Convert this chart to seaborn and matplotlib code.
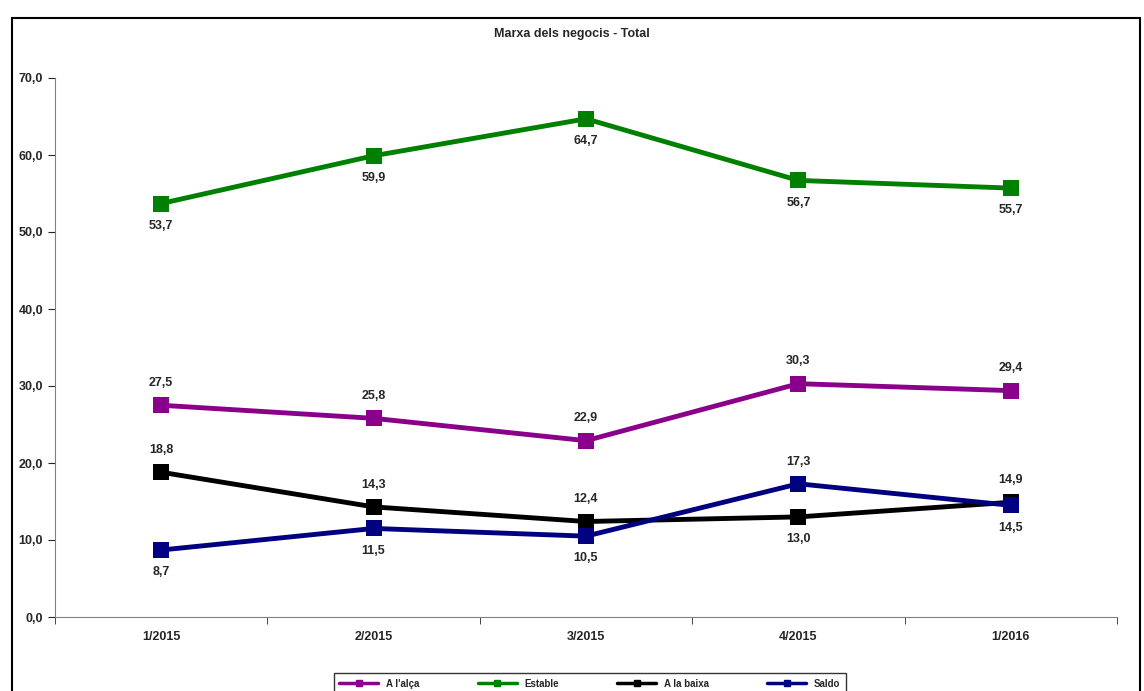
import numpy as np
import pandas as pd
import seaborn as sns
import matplotlib.pyplot as plt
from matplotlib.patches import Rectangle

periods = ["1/2015", "2/2015", "3/2015", "4/2015", "1/2016"]
alca = [27.5, 25.8, 22.9, 30.3, 29.4]
estable = [53.7, 59.9, 64.7, 56.7, 55.7]
baixa = [18.8, 14.3, 12.4, 13.0, 14.9]
saldo = [8.7, 11.5, 10.5, 17.3, 14.5]

series = {"A l'alça": alca, "Estable": estable, "A la baixa": baixa, "Saldo": saldo}
colors = {"A l'alça": "#8B008B", "Estable": "#008000", "A la baixa": "#000000", "Saldo": "#000080"}
# label placement: +1 above, -1 below
label_pos = {
    "A l'alça": [1, 1, 1, 1, 1],
    "Estable": [-1, -1, -1, -1, -1],
    "A la baixa": [1, 1, 1, -1, 1],
    "Saldo": [-1, -1, -1, 1, -1],
}

df = pd.concat([pd.DataFrame({"x": range(len(periods)), "value": v, "serie": k})
                for k, v in series.items()])

sns.set_style("white")
plt.rcParams['font.family'] = ['Liberation Sans', 'DejaVu Sans']
fig = plt.figure(figsize=(11.44, 6.91), dpi=100)
fig.patches.append(Rectangle((12/1144, -0.1), 1128/1144, 1.1 - 18/691, transform=fig.transFigure,
                             fill=False, edgecolor="black", linewidth=1.5))
ax = fig.add_axes([55/1144, 1 - 617/691, 1062/1144, 539/691])
sns.lineplot(data=df, x="x", y="value", hue="serie", palette=colors, marker="s",
             markersize=11, markeredgewidth=0, linewidth=3.5, ax=ax, legend=False)

for k, v in series.items():
    for i, val in enumerate(v):
        off = 16 if label_pos[k][i] > 0 else -16
        ax.annotate(f"{val:.1f}".replace(".", ","), (i, val), xytext=(0, off),
                    textcoords="offset points", ha="center", va="center",
                    fontsize=9, fontweight="bold")

ax.set_xlim(-0.5, 4.5)
ax.set_ylim(0, 70)
ax.set_yticks(np.arange(0, 71, 10))
ax.set_yticklabels([f"{t:.1f}".replace(".", ",") for t in np.arange(0, 71, 10)],
                   fontsize=9, fontweight="bold")
ax.set_xticks(range(len(periods)))
ax.set_xticklabels(periods, fontsize=9, fontweight="bold")
ax.set_xticks(np.arange(-0.5, 4.6, 1), minor=True)
ax.tick_params(axis="x", which="major", length=0, pad=10)
ax.tick_params(axis="x", which="minor", length=5, direction="out", bottom=True)
ax.tick_params(axis="y", length=5, direction="out", left=True)
ax.set_xlabel("")
ax.set_ylabel("")
ax.grid(False)
for s in ["top", "right"]:
    ax.spines[s].set_visible(False)
for s in ["left", "bottom"]:
    ax.spines[s].set_color("#808080")

fig.text(0.5, 1 - 34/691, "Marxa dels negocis - Total", ha="center", va="center",
         fontsize=9, fontweight="bold")

handles = [plt.Line2D([], [], color=colors[k], marker="s", markersize=5, linewidth=2.5)
           for k in series]
leg = fig.legend(handles, list(series.keys()), loc="upper center", ncol=4,
                 bbox_to_anchor=(590/1144, 1 - 668/691), frameon=True, fancybox=False,
                 prop={"size": 7, "weight": "bold"}, handlelength=4, columnspacing=6,
                 borderpad=0.6)
leg.get_frame().set_edgecolor("black")

fig.savefig("out.png", dpi=100)
